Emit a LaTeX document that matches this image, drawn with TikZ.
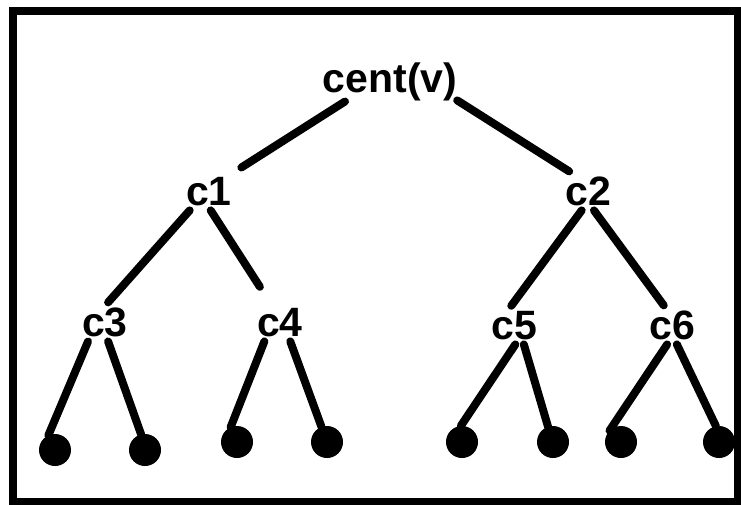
\documentclass[tikz,border=0pt]{standalone}
\usepackage{fontspec}
\setmainfont{Liberation Sans}
\begin{document}
\begin{tikzpicture}[x=1pt,y=-1pt,
    lbl/.style={font=\bfseries\fontsize{41}{41}\selectfont, inner sep=0pt, outer sep=5pt, anchor=base},
    leaf/.style={circle, fill=black, inner sep=0pt, minimum size=32pt},
    edge/.style={line width=8pt, line cap=round}]
    \useasboundingbox (0,0) rectangle (741,505);
    \draw[line width=8pt] (12.5,11) rectangle (738,502);

    \node[lbl, outer sep=0pt] (V) at (390,93) {cent(v)};

    \node[lbl] (C1) at (209,205) {c1};
    \node[lbl] (C2) at (588,205) {c2};

    \node[lbl] (C3) at (105,336) {c3};
    \node[lbl] (C4) at (280,336) {c4};
    \node[lbl] (C5) at (514,339) {c5};
    \node[lbl] (C6) at (672,339) {c6};

    \node[leaf] (L1) at (55,450) {};
    \node[leaf] (L2) at (145,450) {};
    \node[leaf] (L3) at (237,442) {};
    \node[leaf] (L4) at (327,442) {};
    \node[leaf] (L5) at (462,442) {};
    \node[leaf] (L6) at (553,442) {};
    \node[leaf] (L7) at (621,442) {};
    \node[leaf] (L8) at (719,442) {};

    \draw[edge, shorten >=8pt] (V.203) -- (C1.37);
    \draw[edge] (V.345) -- (C2.134);
    \draw[edge] (C1.225) -- (C3.81);
    \draw[edge, shorten >=19pt] (C1.275) -- (C4.117);
    \draw[edge] (C2.252) -- (C5.98);
    \draw[edge] (C2.287) -- (C6.113);
    \draw[edge] (C3.229) -- (L1.114);
    \draw[edge] (C3.279) -- (L2.104);
    \draw[edge] (C4.231) -- (L3.113);
    \draw[edge] (C4.298) -- (L4.110);
    \draw[edge] (C5.274) -- (L5.94);
    \draw[edge] (C5.297) -- (L6.108);
    \draw[edge] (C6.256) -- (L7.135);
    \draw[edge] (C6.284) -- (L8.101);
\end{tikzpicture}
\end{document}
